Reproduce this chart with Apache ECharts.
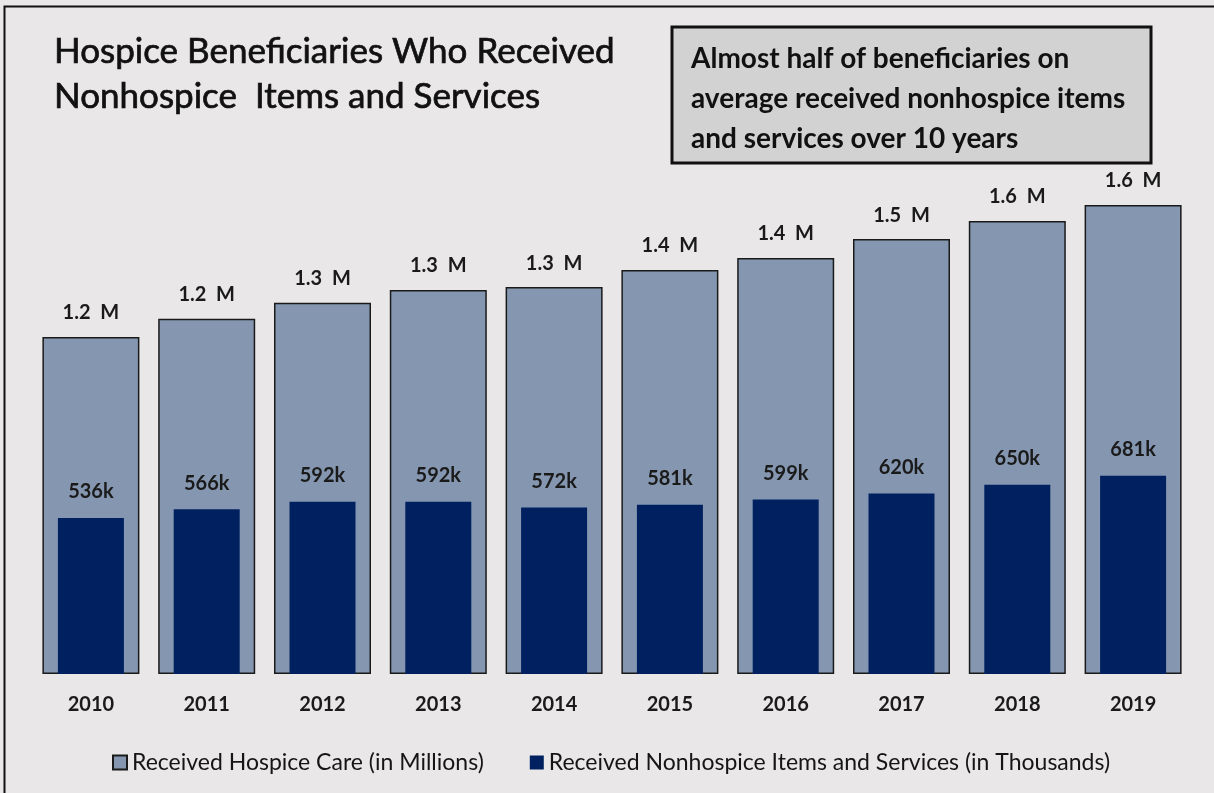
<!DOCTYPE html>
<html>
<head>
<meta charset="utf-8">
<script src="https://cdn.jsdelivr.net/npm/echarts@6/dist/echarts.min.js"></script>
<style>
  html, body { margin: 0; padding: 0; background: #e9e7e8; }
  #chart { width: 1214px; height: 793px; }
</style>
</head>
<body>
<div id="chart"></div>
<script>
// Chart data (thousands of beneficiaries)
const years = ['2010', '2011', '2012', '2013', '2014', '2015', '2016', '2017', '2018', '2019'];
const hospiceCare = [1158, 1220, 1275, 1319, 1329, 1388, 1429, 1494, 1556, 1611];
const nonhospice = [536, 566, 592, 592, 572, 581, 599, 620, 650, 681];
const seriesNames = ['Received Hospice Care (in Millions)', 'Received Nonhospice Items and Services (in Thousands)'];
const noteLines = [
    'Almost half of beneficiaries on',
    'average received nonhospice items',
    'and services over 10 years'
];

const font = 'Lato, "Open Sans", sans-serif';
const chart = echarts.init(document.getElementById('chart'));

chart.setOption({
    backgroundColor: '#e9e7e8',
    animation: false,
    textStyle: {fontFamily: font},
    title: {
        text: 'Hospice Beneficiaries Who Received\nNonhospice  Items and Services',
        left: 54,
        top: 29,
        padding: 0,
        textStyle: {
            fontSize: 35, fontWeight: 'normal', color: '#111', lineHeight: 45, fontFamily: font,
            textBorderColor: '#111', textBorderWidth: 0.7
        }
    },
    legend: {
        left: 107,
        top: 746,
        icon: 'rect',
        itemWidth: 14,
        itemHeight: 14,
        itemGap: 46,
        textStyle: {fontSize: 23, color: '#151515', fontFamily: font},
        data: seriesNames
    },
    grid: {left: 33, right: 23, top: 150, bottom: 119},
    xAxis: [
        {
            type: 'category',
            data: years,
            axisLine: {show: false},
            axisTick: {show: false},
            axisLabel: {fontSize: 20, fontWeight: 'bold', color: '#1a1a1a', margin: 21, fontFamily: font}
        },
        {
            type: 'category',
            data: years,
            show: false
        }
    ],
    yAxis: {
        type: 'value',
        min: 0,
        max: 1800,
        show: false,
        splitLine: {show: false}
    },
    graphic: [
        {
            type: 'rect',
            shape: {x: 4.5, y: 6.5, width: 1300, height: 900},
            style: {fill: 'none', stroke: '#111', lineWidth: 2},
            silent: true
        },
        {
            type: 'rect',
            shape: {x: 672, y: 27, width: 479, height: 136},
            style: {fill: '#d3d2d2', stroke: '#111', lineWidth: 3}
        },
        {
            type: 'text',
            left: 691,
            top: 39,
            style: {
                text: noteLines.join('\n'),
                font: 'bold 28px ' + font,
                lineHeight: 40,
                fill: '#111'
            }
        }
    ],
    series: [
        {
            name: seriesNames[0],
            type: 'bar',
            xAxisIndex: 0,
            data: hospiceCare,
            barWidth: 97,
            itemStyle: {color: '#8597b0', borderColor: '#1a1a1a', borderWidth: 1.5},
            label: {
                show: true,
                position: 'top',
                distance: 14,
                fontSize: 20,
                fontWeight: 'bold',
                color: '#1a1a1a',
                fontFamily: font,
                formatter: p => (p.value / 1000).toFixed(1) + '  M'
            },
            z: 1
        },
        {
            name: seriesNames[1],
            type: 'bar',
            xAxisIndex: 1,
            data: nonhospice,
            barWidth: 66,
            itemStyle: {color: '#002060'},
            label: {
                show: true,
                position: 'top',
                distance: 16,
                fontSize: 20,
                fontWeight: 'bold',
                color: '#1a1a1a',
                fontFamily: font,
                formatter: p => p.value + 'k'
            },
            z: 2
        }
    ]
});
</script>
</body>
</html>
